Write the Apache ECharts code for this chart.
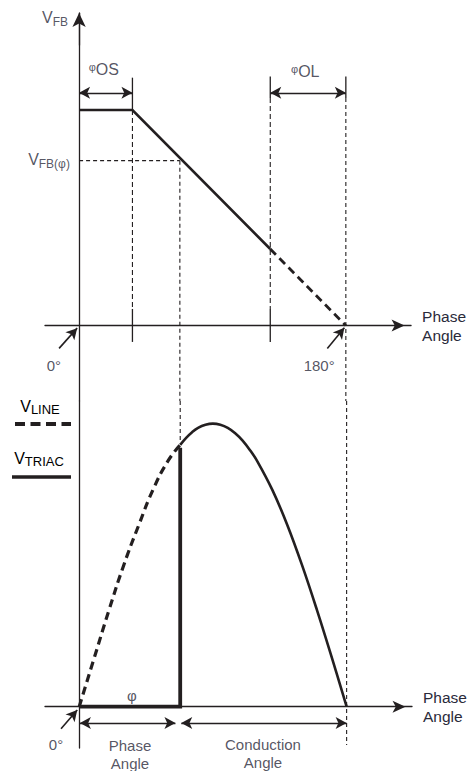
<!DOCTYPE html>
<html><head><meta charset="utf-8">
<script src="https://cdn.jsdelivr.net/npm/echarts@6/dist/echarts.min.js"></script>
<style>html,body{margin:0;padding:0;background:#fff}#c{width:469px;height:771px}</style>
</head><body><div id="c"></div>
<script>
// ---------------- data (phase angle in degrees, voltages normalised) ----------------
const phaseMin = -23, phaseMax = 224;
const vfbMin = -0.35, vfbMax = 1.45;
// top panel: V_FB vs phase angle (1.0 = flat offset level)
const vfbSolid = [[0, 1.0], [36, 1.0], [129, 0.355]];
const vfbDashed = [[129, 0.355], [180, 0]];
const phiOS = 36;          // end of offset interval φOS
const phiOLStart = 129;    // start of interval φOL
const phiEnd = 180;        // 180°
const phi = 68;            // firing angle φ
const vfbPhi = 0.765;      // V_FB(φ)
// bottom panel: line voltage half-cycle (1.0 = peak)
const vLineDashed = [[0, 0], [10, 0.17], [20, 0.34], [30, 0.5], [40, 0.64], [50, 0.77], [60, 0.87], [68, 0.925]];
const vTriacCurve = [[68, 0.925], [72, 0.95], [76, 0.97], [80, 0.985], [85, 0.996], [90, 1.0], [95, 0.996], [100, 0.985],
  [105, 0.966], [110, 0.94], [115, 0.906], [120, 0.866], [130, 0.766], [140, 0.643], [150, 0.5], [160, 0.342], [170, 0.174], [180, 0]];
const vTriacOff = [[0, 0], [68, 0], [68, 0.915]];
// texts
const tickLabels = ['0°', '180°'];
const axisTitle = 'Phase\nAngle';
const intervalNames = ['OS', 'OL'];
const bottomSpans = ['Phase\nAngle', 'Conduction\nAngle'];

// ---------------- styling ----------------
const INK = '#231f20';
const TXT = '#2a2a3a';
const FONT = '"Liberation Sans", Arial, Helvetica, sans-serif';
const rich = {
  v: {fontSize: 16, lineHeight: 16, fontFamily: FONT, color: TXT, verticalAlign: 'bottom', padding: [0, 0, 2, 0]},
  s: {fontSize: 12, lineHeight: 12, fontFamily: FONT, color: TXT, verticalAlign: 'bottom'},
  L: {fontSize: 13, lineHeight: 13, fontFamily: FONT, color: TXT, verticalAlign: 'bottom'},
  p: {fontSize: 11, lineHeight: 11, fontFamily: FONT, color: TXT, verticalAlign: 'top'},
  t: {fontSize: 16, lineHeight: 16, fontFamily: FONT, color: TXT, verticalAlign: 'bottom'}
};

function seg(gi, data, width, dash, smooth) {
  return {type: 'line', xAxisIndex: gi, yAxisIndex: gi, data: data, symbol: 'none', silent: true,
    animation: false, clip: false, z: 3, smooth: smooth || false,
    lineStyle: {width: width, type: dash || 'solid', color: INK, cap: 'butt', join: 'miter'}};
}
function labels(gi, items) {
  return {type: 'scatter', xAxisIndex: gi, yAxisIndex: gi, symbolSize: 0, silent: true, animation: false, clip: false, z: 5,
    data: items.map(it => ({value: it.at, label: {show: true, position: [0, 0], formatter: it.text,
      align: it.align || 'center', verticalAlign: 'middle', rich: rich, lineHeight: 18,
      fontFamily: FONT, fontSize: 15, color: TXT}}))};
}
function arrows(gi, pairs, size, width) {
  return {type: 'line', xAxisIndex: gi, yAxisIndex: gi, data: [], symbol: 'none', silent: true, animation: false,
    markLine: {silent: true, animation: false, symbol: ['arrow', 'arrow'], symbolSize: size,
      label: {show: false}, emphasis: {disabled: true},
      lineStyle: {color: INK, width: width || 1.3, type: 'solid'},
      data: pairs.map(p => [{coord: p[0], symbol: p[2] === 1 ? 'none' : 'arrow'}, {coord: p[1]}])}};
}

const series = [
  // ----- top panel -----
  seg(0, vfbSolid, 2.6),
  seg(0, vfbDashed, 2.8, [8, 5]),
  // φOS marker
  seg(0, [[phiOS, 1.0], [phiOS, 1.15]], 1.3),
  seg(0, [[phiOS, 1.0], [phiOS, 0.077]], 1.1, [5, 3]),
  seg(0, [[phiOS, 0.077], [phiOS, -0.076]], 1.3),
  // φOL start marker
  seg(0, [[phiOLStart, 1.155], [phiOLStart, 1.056]], 1.3),
  seg(0, [[phiOLStart, 1.056], [phiOLStart, 0.077]], 1.1, [5, 3]),
  seg(0, [[phiOLStart, 0.077], [phiOLStart, -0.076]], 1.3),
  // 180° marker
  seg(0, [[phiEnd, 1.155], [phiEnd, 1.056]], 1.3),
  seg(0, [[phiEnd, 1.056], [phiEnd, vfbMin]], 1.1, [4, 3]),
  // V_FB(φ) guides
  seg(0, [[0, vfbPhi], [phi, vfbPhi]], 1.1, [4, 3]),
  seg(0, [[phi, vfbPhi], [phi, vfbMin]], 1.1, [4, 3]),
  arrows(0, [[[0, 1.08], [phiOS, 1.08]], [[phiOLStart, 1.08], [phiEnd, 1.08]]], [9, 11]),
  arrows(0, [[[-13.5, -0.106], [-1.3, -0.012], 1], [[167.5, -0.106], [179, -0.01], 1]], [9, 11], 1.6),
  // arrowhead of the V_FB axis
  arrows(0, [[[0, 1.3], [0, vfbMax], 1]], [10, 14], 1.3),
  labels(0, [
    {text: '{v|V}{s|FB}', at: [-7.5, 1.418], align: 'right'},
    {text: '{p|φ}{t|' + intervalNames[0] + '}', at: [16.7, 1.19]},
    {text: '{p|φ}{t|' + intervalNames[1] + '}', at: [152.6, 1.18]},
    {text: '{v|V}{s|FB(φ)}', at: [-6.2, 0.76], align: 'right'},
    {text: tickLabels[0], at: [-17, -0.183]},
    {text: tickLabels[1], at: [162, -0.183]}
  ]),
  // ----- bottom panel -----
  seg(1, vLineDashed, 3.2, [8, 5], 0.5),
  seg(1, vTriacCurve, 2.6, null, 0.4),
  seg(1, vTriacOff, 3.8),
  seg(1, [[phi, 1.08], [phi, 0.93]], 1.1, [4, 3]),
  seg(1, [[phiEnd, 1.08], [phiEnd, -0.135]], 1.1, [4, 3]),
  arrows(1, [[[0.5, -0.058], [64.8, -0.058]], [[68.7, -0.058], [phiEnd, -0.058]]], [9, 11]),
  arrows(1, [[[-12.2, -0.078], [-1.3, -0.012], 1]], [9, 11], 1.6),
  labels(1, [
    {text: 'φ', at: [35.5, 0.04]},
    {text: tickLabels[0], at: [-15.6, -0.135]},
    {text: bottomSpans[0], at: [34.2, -0.168]},
    {text: bottomSpans[1], at: [123.7, -0.164]}
  ])
];

function xAx(gi) {
  return {type: 'value', gridIndex: gi, min: phaseMin, max: phaseMax, name: axisTitle, nameLocation: 'end', nameGap: 11,
    nameTextStyle: {fontFamily: FONT, fontSize: 15.5, color: TXT, align: 'left', verticalAlign: 'middle', lineHeight: 19},
    axisLine: {show: true, onZero: true, symbol: ['none', 'arrow'], symbolSize: [9, 13], symbolOffset: [0, -6.5],
      lineStyle: {color: INK, width: 1.3}},
    axisTick: {show: false}, axisLabel: {show: false}, splitLine: {show: false}};
}
function yAx(gi, min, max) {
  return {type: 'value', gridIndex: gi, min: min, max: max,
    axisLine: {show: true, onZero: true, symbol: 'none', lineStyle: {color: INK, width: 1.3}},
    axisTick: {show: false}, axisLabel: {show: false}, splitLine: {show: false}};
}

const chart = echarts.init(document.getElementById('c'), null, {renderer: 'svg'});
chart.setOption({
  backgroundColor: '#fff',
  animation: false,
  grid: [
    {left: 45, width: 367, top: 13, height: 388},
    {left: 45, width: 367, top: 401, height: 347}
  ],
  xAxis: [xAx(0), xAx(1)],
  yAxis: [yAx(0, vfbMin, vfbMax), yAx(1, -0.146, 1.08)],
  series: series,
  graphic: [
    {type: 'line', shape: {x1: 15, y1: 424, x2: 71, y2: 424}, style: {stroke: INK, lineWidth: 4, lineDash: [10, 5.5]}},
    {type: 'line', shape: {x1: 12, y1: 477, x2: 71, y2: 477}, style: {stroke: INK, lineWidth: 3.5}},
    {type: 'text', x: 40, y: 408, style: {text: '{v|V}{L|LINE}', rich: rich, align: 'center', verticalAlign: 'middle', textAlign: 'center', textVerticalAlign: 'middle'}},
    {type: 'text', x: 39, y: 460, style: {text: '{v|V}{L|TRIAC}', rich: rich, align: 'center', verticalAlign: 'middle', textAlign: 'center', textVerticalAlign: 'middle'}}
  ]
});
</script></body></html>
